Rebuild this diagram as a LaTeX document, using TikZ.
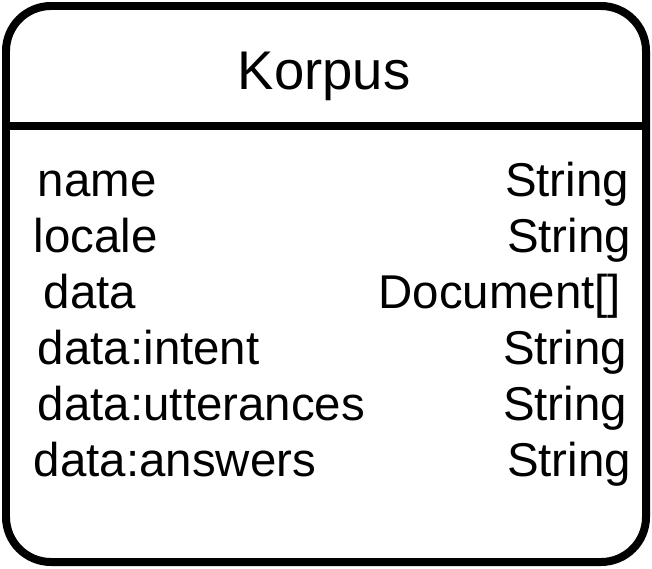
\documentclass[tikz,border=0pt]{standalone}
\usepackage{fontspec}
\setmainfont{Liberation Sans}
\usetikzlibrary{positioning}
\tikzset{
  every picture/.style={line width=4.55pt},
  frame/.style={draw=black, rounded corners=0.9cm},
  title/.style={font=\fontsize{31}{36}\selectfont, anchor=base, inner sep=0pt},
  field/.style={font=\fontsize{27}{32}\selectfont, anchor=base west, inner sep=0pt},
  ftype/.style={font=\fontsize{27}{32}\selectfont, anchor=base east, inner sep=0pt},
}
\begin{document}
\begin{tikzpicture}[x=0.02cm, y=-0.02cm]
  \useasboundingbox (0,0) rectangle (652,568);
  \draw[frame] (6,6) rectangle (646,562);
  \coordinate (divl) at (6,126);
  \coordinate (divr) at (646,126);
  \draw (divl) -- (divr);
  \node[title] (korpus) at (324,89) {Korpus};
  \node[field] (name) at (34,196) {name};
  \node[ftype] (nametype) at (633,196) {String};
  \node[field] (locale) at (30,252) {locale};
  \node[ftype] (localetype) at (635,252) {String};
  \node[field] (data) at (40,308) {data};
  \node[ftype] (datatype) at (625,308) {Document[]};
  \node[field] (intent) at (34,364) {data:intent};
  \node[ftype] (intenttype) at (631,364) {String};
  \node[field] (utter) at (34,420) {data:utterances};
  \node[ftype] (uttertype) at (631,420) {String};
  \node[field] (answers) at (30,476) {data:answers};
  \node[ftype] (answerstype) at (635,476) {String};
\end{tikzpicture}
\end{document}
